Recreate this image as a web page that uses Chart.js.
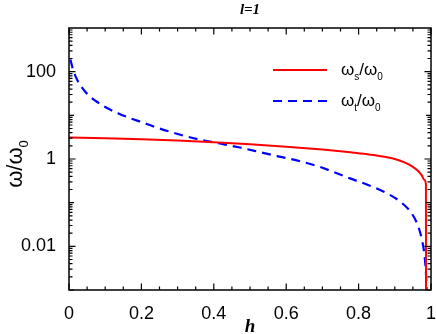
<!DOCTYPE html>
<html><head><meta charset="utf-8">
<script src="https://cdn.jsdelivr.net/npm/chart.js@4"></script>
<style>html,body{margin:0;padding:0;background:#fff}#wrap{width:436px;height:334px}</style>
</head><body><div id="wrap"><canvas id="c" width="436" height="334"></canvas></div>
<script>
// ---- data ----
const hS     = [0, 0.1, 0.2, 0.3, 0.4, 0.5, 0.6, 0.7, 0.75, 0.8, 0.85, 0.9, 0.93, 0.95, 0.965, 0.975, 0.982, 0.986, 0.9863];
const omegaS = [3.10, 2.99, 2.83, 2.64, 2.42, 2.17, 1.91, 1.65, 1.51, 1.36, 1.20, 1.00, 0.813, 0.661, 0.525, 0.417, 0.331, 0.263, 0.0001];
const hT     = [0.004, 0.01, 0.02, 0.03, 0.05, 0.075, 0.1, 0.135, 0.169, 0.2, 0.238, 0.288, 0.352, 0.417, 0.472, 0.536, 0.578, 0.638, 0.693, 0.729, 0.776, 0.831, 0.877, 0.914, 0.947, 0.965, 0.975, 0.982, 0.986, 0.9885];
const omegaT = [190, 120, 72, 51, 31, 21, 15.5, 11.2, 8.6, 7.0, 5.4, 4.0, 2.88, 2.26, 1.83, 1.38, 1.15, 0.89, 0.66, 0.51, 0.36, 0.245, 0.166, 0.107, 0.0562, 0.0282, 0.0141, 0.0063, 0.0025, 0.0008];
const xTickValues = [0, 0.2, 0.4, 0.6, 0.8, 1];
const xTickLabels = ['0', '0.2', '0.4', '0.6', '0.8', '1'];
const xMinorStep = 0.05;
const yTickValues = [0.01, 1, 100];
const yTickLabels = ['0.01', '1', '100'];
const titleText = 'l=1';
const xTitleText = 'h';
const yTitleParts = ['ω/ω', '0'];
const legendS = ['ω', 's', '/ω', '0'];
const legendT = ['ω', 't', '/ω', '0'];

const sansFont = '"Liberation Sans", Arial, sans-serif';
const serifFont = '"Liberation Serif", "Times New Roman", serif';

function drawSub(ctx, parts, x, y, big, small, drop) {
  let cx = x;
  parts.forEach((p, i) => {
    const sub = i % 2 === 1;
    ctx.font = (sub ? small : big) + 'px ' + sansFont;
    ctx.fillText(p, cx, sub ? y + drop : y);
    cx += ctx.measureText(p).width;
  });
  return cx - x;
}
function partsWidth(ctx, parts, big, small) {
  let w = 0;
  parts.forEach((p, i) => {
    ctx.font = ((i % 2) ? small : big) + 'px ' + sansFont;
    w += ctx.measureText(p).width;
  });
  return w;
}

const decorations = {
  id: 'decorations',
  afterDatasetsDraw(chart) {
    const ctx = chart.ctx;
    const a = chart.chartArea;
    const xs = chart.scales.x, ys = chart.scales.y;
    ctx.save();
    ctx.strokeStyle = '#000';
    ctx.lineWidth = 1.5;
    ctx.strokeRect(a.left, a.top, a.right - a.left, a.bottom - a.top);
    ctx.lineWidth = 1.2;
    ctx.beginPath();
    for (let i = 0; i <= Math.round(1 / xMinorStep); i++) {
      const v = i * xMinorStep;
      const px = xs.getPixelForValue(v);
      const major = xTickValues.some(t => Math.abs(t - v) < 1e-9);
      const len = major ? 6.5 : 3.5;
      ctx.moveTo(px, a.bottom); ctx.lineTo(px, a.bottom - len);
      ctx.moveTo(px, a.top); ctx.lineTo(px, a.top + len);
    }
    for (let e = -3; e <= 2; e++) {
      for (let m = 1; m <= 9; m++) {
        const v = m * Math.pow(10, e);
        if (v < ys.min * 0.999 || v > ys.max * 1.001) continue;
        const py = ys.getPixelForValue(v);
        const major = yTickValues.some(t => Math.abs(t - v) / t < 1e-6);
        const len = major ? 6.5 : (m === 1 ? 5 : 3.5);
        ctx.moveTo(a.left, py); ctx.lineTo(a.left + len, py);
        ctx.moveTo(a.right, py); ctx.lineTo(a.right - len, py);
      }
    }
    ctx.stroke();

    ctx.fillStyle = '#000';
    ctx.font = 'italic bold 15px ' + serifFont;
    ctx.textAlign = 'center';
    ctx.textBaseline = 'alphabetic';
    ctx.fillText(titleText, (a.left + a.right) / 2, 14);
    ctx.font = 'italic bold 19px ' + serifFont;
    ctx.fillText(xTitleText, (a.left + a.right) / 2, 332);
    ctx.textAlign = 'left';
    ctx.save();
    ctx.translate(22, (a.top + a.bottom) / 2 + 5);
    ctx.rotate(-Math.PI / 2);
    const yw = partsWidth(ctx, yTitleParts, 22, 13);
    drawSub(ctx, yTitleParts, -yw / 2, 0, 22, 13, 6);
    ctx.restore();

    const lx0 = 273, lx1 = 327, tx = 341;
    const rows = [
      {y: 70, color: chart.data.datasets[0].borderColor, dash: [], w: 2, parts: legendS},
      {y: 101, color: chart.data.datasets[1].borderColor, dash: [9, 6], w: 2.2, parts: legendT}
    ];
    rows.forEach(r => {
      ctx.save();
      ctx.strokeStyle = r.color;
      ctx.lineWidth = r.w;
      ctx.setLineDash(r.dash);
      ctx.beginPath();
      ctx.moveTo(lx0, r.y); ctx.lineTo(lx1, r.y);
      ctx.stroke();
      ctx.restore();
      ctx.fillStyle = '#000';
      drawSub(ctx, r.parts, tx, r.y + 5, 17, 10, 5);
    });
    ctx.restore();
  }
};

new Chart(document.getElementById('c'), {
  type: 'line',
  data: {
    datasets: [
      {
        label: 'ωs/ω0',
        data: hS.map((h, i) => ({x: h, y: omegaS[i]})),
        borderColor: '#ff0000',
        borderWidth: 2,
        pointRadius: 0,
        fill: false,
        cubicInterpolationMode: 'monotone'
      },
      {
        label: 'ωt/ω0',
        data: hT.map((h, i) => ({x: h, y: omegaT[i]})),
        borderColor: '#0000ff',
        borderWidth: 2.2,
        borderDash: [9, 6],
        pointRadius: 0,
        fill: false,
        cubicInterpolationMode: 'monotone'
      }
    ]
  },
  options: {
    responsive: false,
    animation: false,
    devicePixelRatio: 1,
    layout: {padding: {top: 28, right: 5, left: 0, bottom: 0}},
    plugins: {legend: {display: false}, title: {display: false}, tooltip: {enabled: false}},
    scales: {
      x: {
        type: 'linear', min: 0, max: 1,
        afterBuildTicks: s => { s.ticks = xTickValues.map(v => ({value: v})); },
        ticks: {
          autoSkip: false, maxRotation: 0, padding: 5, color: '#000',
          font: {family: sansFont, size: 18},
          callback: (v) => { const i = xTickValues.findIndex(t => Math.abs(t - v) < 1e-9); return i >= 0 ? xTickLabels[i] : ''; }
        },
        grid: {display: false},
        border: {display: false},
        afterFit: s => { s.height = 44; s.paddingRight = 5; s.paddingLeft = 0; }
      },
      y: {
        type: 'logarithmic', min: 0.001, max: 1000,
        afterBuildTicks: s => { s.ticks = yTickValues.map(v => ({value: v})); },
        ticks: {
          autoSkip: false, padding: 5, color: '#000',
          font: {family: sansFont, size: 18},
          callback: (v) => { const i = yTickValues.findIndex(t => Math.abs(t - v) / t < 1e-6); return i >= 0 ? yTickLabels[i] : ''; }
        },
        grid: {display: false},
        border: {display: false},
        afterFit: s => { s.width = 69; }
      }
    }
  },
  plugins: [decorations]
});
</script>
</body></html>
